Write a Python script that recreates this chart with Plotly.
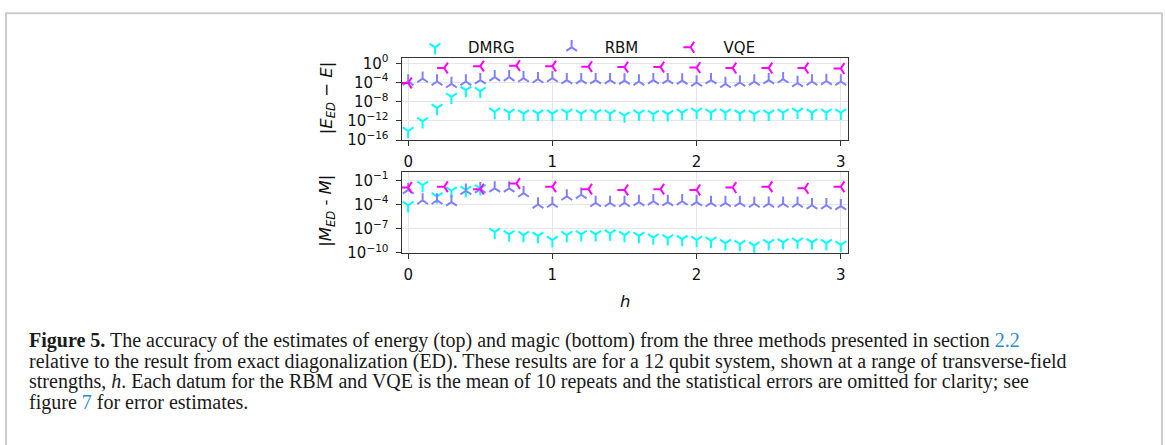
import plotly.graph_objects as go

W, H = 1165, 445

# ---------------- data ----------------
h_fine = [round(0.1 * i, 1) for i in range(31)]
h_vqe = [0.0, 0.25, 0.5, 0.75, 1.0, 1.25, 1.5, 1.75, 2.0, 2.25, 2.5, 2.75, 3.0]

# log10 of |E_ED - E|
dmrg_E_log = [-14.1, -12.1, -9.3, -7.0, -5.6, -5.8, -10.1, -10.3, -10.5, -10.5, -10.5,
              -10.3, -10.5, -10.4, -10.5, -10.9, -10.5, -10.6, -10.6, -10.3, -10.1,
              -10.3, -10.3, -10.5, -10.6, -10.5, -10.3, -10.1, -10.3, -10.3, -10.3]
rbm_E_log = [-3.8, -3.2, -3.8, -4.3, -3.8, -3.5, -2.9, -2.9, -3.1, -3.3, -3.1,
             -3.5, -3.5, -3.5, -3.5, -3.6, -3.8, -3.5, -3.5, -3.6, -4.0,
             -3.5, -4.3, -4.0, -3.8, -3.5, -3.3, -4.1, -3.8, -3.7, -3.8]
vqe_E_log = [-4.1, -1.0, -0.6, -0.5, -0.6, -0.7, -0.8, -0.8, -0.9, -1.0, -1.0, -1.0, -1.1]

# log10 of |M_ED - M|
dmrg_M_log = [-4.1, -1.6, -3.0, -2.3, -2.2, -2.0, -7.4, -7.7, -7.8, -7.9, -8.4,
              -7.8, -7.7, -7.7, -7.6, -7.8, -7.9, -8.1, -8.2, -8.3, -8.4,
              -8.5, -8.8, -8.9, -9.1, -8.8, -8.7, -8.6, -8.7, -8.8, -9.0]
rbm_M_log = [-2.2, -3.5, -3.5, -3.7, -2.3, -2.1, -2.0, -2.0, -2.6, -4.0, -3.9,
             -3.0, -2.8, -3.8, -3.8, -3.8, -3.7, -3.6, -3.7, -3.6, -3.7,
             -3.8, -3.8, -3.8, -3.9, -3.9, -3.9, -3.9, -4.1, -4.1, -4.2]
vqe_M_log = [-1.9, -1.8, -2.1, -1.4, -1.8, -2.1, -2.2, -2.1, -2.2, -1.9, -1.8, -2.0, -1.8]

top_ticks = [0, -4, -8, -12, -16]
bot_ticks = [-1, -4, -7, -10]
x_ticks = [0, 1, 2, 3]

series_names = ["DMRG", "RBM", "VQE"]
colors = ["#00ffff", "#8080ff", "#ff00ff"]
symbols = ["y-down", "y-up", "y-left"]
legend_pad = ["\u00a0" * 4, "\u00a0" * 3, ""]

# ---------------- figure ----------------
fig = go.Figure()

def add(x, ylog, k, xa, ya, show):
    fig.add_trace(go.Scatter(
        x=x, y=[10 ** v for v in ylog], mode="markers",
        name=series_names[k] + legend_pad[k], legendgroup=series_names[k], showlegend=show,
        xaxis=xa, yaxis=ya,
        marker=dict(symbol=symbols[k], size=9, color=colors[k],
                    line=dict(color=colors[k], width=2)),
    ))

add(h_fine, dmrg_E_log, 0, "x", "y", True)
add(h_fine, rbm_E_log, 1, "x", "y", True)
add(h_vqe, vqe_E_log, 2, "x", "y", True)
add(h_fine, dmrg_M_log, 0, "x2", "y2", False)
add(h_fine, rbm_M_log, 1, "x2", "y2", False)
add(h_vqe, vqe_M_log, 2, "x2", "y2", False)

tick_font = dict(family="DejaVu Sans", size=15, color="#111")
frame = "#333333"
grid = "#e6e6e6"

x0p, x1p = 401.7 / W, 848.3 / W
top_dom = [1 - 138.8 / H, 1 - 54.3 / H]
bot_dom = [1 - 255.5 / H, 1 - 172.0 / H]

def sup(e):
    s = str(e).replace("-", "\u2212")
    return "10<sup>" + s + "</sup>"

xcommon = dict(range=[-0.045, 3.052], tickvals=x_ticks, ticktext=[str(t) for t in x_ticks],
               showline=True, linecolor=frame, linewidth=1.3, mirror=True,
               ticks="outside", ticklen=5, tickcolor=frame, tickwidth=1.2,
               showgrid=True, gridcolor=grid, gridwidth=1, zeroline=False,
               tickfont=tick_font, domain=[x0p, x1p], ticklabelstandoff=3)

ycommon = dict(type="log", showline=True, linecolor=frame, linewidth=1.3, mirror=True,
               ticks="outside", ticklen=5, tickcolor=frame, tickwidth=1.2,
               showgrid=True, gridcolor=grid, gridwidth=1, zeroline=False,
               tickfont=tick_font, ticklabelstandoff=4)

fig.update_layout(
    width=W, height=H, margin=dict(l=0, r=0, t=0, b=0),
    paper_bgcolor="white", plot_bgcolor="white",
    xaxis=dict(anchor="y", **xcommon),
    xaxis2=dict(anchor="y2", **xcommon),
    yaxis=dict(range=[-16, 1.0], domain=top_dom, anchor="x",
               tickvals=[10 ** t for t in top_ticks], ticktext=[sup(t) for t in top_ticks],
               **ycommon),
    yaxis2=dict(range=[-10, 0.0], domain=bot_dom, anchor="x2",
                tickvals=[10 ** t for t in bot_ticks], ticktext=[sup(t) for t in bot_ticks],
                **ycommon),
    legend=dict(orientation="h", x=402 / W, xanchor="left", y=1 - 43 / H, yanchor="middle",
                font=dict(family="DejaVu Sans", size=15, color="#111"),
                itemwidth=56, bgcolor="rgba(0,0,0,0)", borderwidth=0),
    showlegend=True,
)

ann = []
lab_font = dict(family="DejaVu Sans", size=16.5, color="#111")
ann.append(dict(text="|<i>E</i><sub><i>ED</i></sub> \u2212 <i>E</i>|", x=327 / W, y=1 - 95.5 / H,
                xref="paper", yref="paper", xanchor="center", yanchor="middle",
                showarrow=False, textangle=-90, font=lab_font))
ann.append(dict(text="|<i>M</i><sub><i>ED</i></sub> - <i>M</i>|", x=327 / W, y=1 - 212 / H,
                xref="paper", yref="paper", xanchor="center", yanchor="middle",
                showarrow=False, textangle=-90, font=lab_font))
ann.append(dict(text="<i>h</i>", x=625 / W, y=1 - 306 / H, xref="paper", yref="paper",
                xanchor="center", yanchor="middle", showarrow=False, font=lab_font))

link = "#2b8ccc"
caption = [
    "<b>Figure 5.</b> The accuracy of the estimates of energy (top) and magic (bottom) from the three methods presented in section <span style='color:%s'>2.2</span>" % link,
    "relative to the result from exact diagonalization (ED). These results are for a 12 qubit system, shown at a range of transverse-field",
    "strengths, <i>h</i>. Each datum for the RBM and VQE is the mean of 10 repeats and the statistical errors are omitted for clarity; see",
    "figure <span style='color:%s'>7</span> for error estimates." % link,
]
cap_y = [346, 367.5, 388.5, 410]
for t, yy in zip(caption, cap_y):
    ann.append(dict(text=t, x=27 / W, y=1 - yy / H, xref="paper", yref="paper",
                    xanchor="left", yanchor="middle", showarrow=False,
                    font=dict(family="Liberation Serif", size=20, color="#1a1a1a")))
fig.update_layout(annotations=ann)

fig.add_shape(type="rect", xref="paper", yref="paper",
              x0=6 / W, x1=1162 / W, y0=-0.05, y1=1 - 7.5 / H,
              line=dict(color="#cccccc", width=2), fillcolor="rgba(0,0,0,0)", layer="below")

fig.write_html("out.html")
